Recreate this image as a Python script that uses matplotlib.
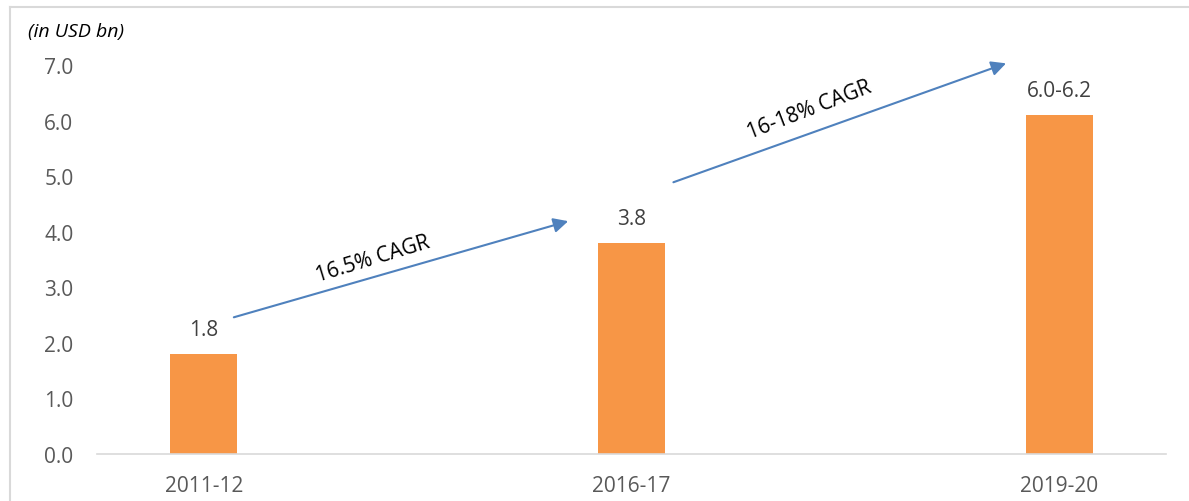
import matplotlib.pyplot as plt
from matplotlib.lines import Line2D

categories = ['2011-12', '2016-17', '2019-20']
values = [1.8, 3.8, 6.1]
value_labels = ['1.8', '3.8', '6.0-6.2']
yticks = [0, 1, 2, 3, 4, 5, 6, 7]
cagr_labels = ['16.5% CAGR', '16-18% CAGR']

plt.rcParams['font.family'] = ['Open Sans', 'DejaVu Sans']

fig = plt.figure(figsize=(11.89, 5.02), dpi=100, facecolor='white')
ax = fig.add_axes([97 / 1189, 1 - 455 / 502, 1069 / 1189, 389 / 502])

x = list(range(len(categories)))
ax.bar(x, values, width=0.157, color='#F79646', zorder=2)
ax.set_xlim(-0.25, 2.25)
ax.set_ylim(0, 7)
ax.set_yticks(yticks)
ax.set_yticklabels([f'{t:.1f}' for t in yticks], fontsize=15, color='#595959')
ax.set_xticks(x)
ax.set_xticklabels(categories, fontsize=15, color='#595959')
ax.tick_params(length=0)
ax.tick_params(axis='y', pad=17)
ax.tick_params(axis='x', pad=15)
for s in ['top', 'right', 'left']:
    ax.spines[s].set_visible(False)
ax.spines['bottom'].set_color('#D9D9D9')
ax.spines['bottom'].set_linewidth(1.2)

for xi, v, lab in zip(x, values, value_labels):
    ax.text(xi, v + 0.44, lab, ha='center', va='center', fontsize=15, color='#404040')

# CAGR arrows
arrows = [((0.070, 2.46), (0.852, 4.19)), ((1.098, 4.89), (1.876, 7.03))]
text_pos = [(0.395, 3.52), (1.415, 6.2)]
text_rot = [17, 21]
for (s, e), tp, rot, lab in zip(arrows, text_pos, text_rot, cagr_labels):
    ax.annotate('', xy=e, xytext=s, annotation_clip=False,
                arrowprops=dict(arrowstyle='-|>', color='#4F81BD', lw=1.5,
                                mutation_scale=22, shrinkA=0, shrinkB=0))
    ax.text(tp[0], tp[1], lab, rotation=rot, ha='center', va='center',
            fontsize=15, color='black', rotation_mode='anchor')

fig.text(28 / 1189, 1 - 32 / 502, '(in USD bn)', fontsize=14, style='italic',
         color='black', ha='left', va='center')

# outer border
fig.add_artist(Line2D([10 / 1189, 1.0], [1 - 8 / 502, 1 - 8 / 502],
                      transform=fig.transFigure, color='#D9D9D9', lw=1.5))
fig.add_artist(Line2D([10 / 1189, 10 / 1189], [0, 1 - 8 / 502],
                      transform=fig.transFigure, color='#D9D9D9', lw=1.5))

fig.savefig('out.png', dpi=100)
